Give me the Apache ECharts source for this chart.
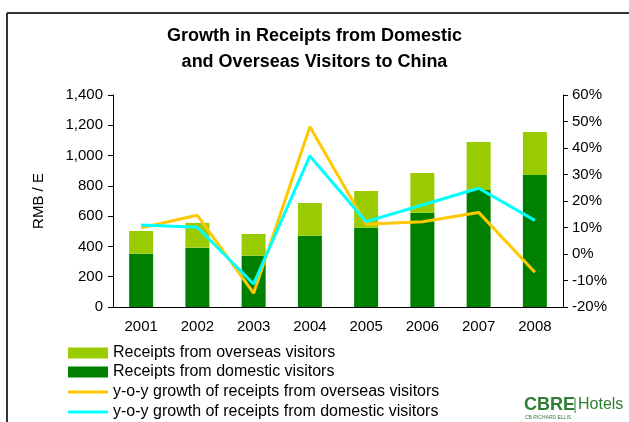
<!DOCTYPE html>
<html>
<head>
<meta charset="utf-8">
<script src="https://cdn.jsdelivr.net/npm/echarts@6/dist/echarts.min.js"></script>
<style>
html,body{margin:0;padding:0;background:#fff;}
#chart{width:629px;height:422px;}
</style>
</head>
<body>
<div id="chart"></div>
<script>
var years = ['2001','2002','2003','2004','2005','2006','2007','2008'];
var domesticReceipts = [352, 392, 339, 471, 524, 623, 773, 872];
var overseasReceipts = [150, 163, 143, 216, 242, 262, 317, 284];
var overseasGrowth = [9.9, 14.6, -14.8, 48.0, 11.2, 12.2, 15.7, -6.9];
var domesticGrowth = [10.9, 10.1, -11.3, 37.0, 12.2, 18.5, 24.8, 12.7];

var FONT = 'Liberation Sans, Arial, sans-serif';
var chart = echarts.init(document.getElementById('chart'));
var tickStyle = {color:'#000', width:1};
var legendText = {fontFamily:FONT, fontSize:16, color:'#000'};
var option = {
  backgroundColor:'#fff',
  animation:false,
  textStyle:{fontFamily:FONT},
  title:{
    text:'Growth in Receipts from Domestic\nand Overseas Visitors to China',
    left:'center', top:18,
    textStyle:{fontFamily:FONT, fontSize:18, fontWeight:'bold', color:'#000', lineHeight:26}
  },
  grid:{left:113, right:66, top:95, bottom:115},
  legend:[{
    orient:'vertical', left:63, top:340, height:60,
    itemWidth:40, itemHeight:11, itemGap:3, padding:5,
    icon:'rect',
    textStyle:legendText,
    data:['Receipts from overseas visitors','Receipts from domestic visitors']
  },{
    orient:'vertical', left:63, top:379, height:60,
    itemWidth:40, itemHeight:3, itemGap:4, padding:5,
    icon:'rect',
    textStyle:legendText,
    data:['y-o-y growth of receipts from overseas visitors','y-o-y growth of receipts from domestic visitors']
  }],
  xAxis:[{
    type:'category', data:years,
    axisLine:{lineStyle:{color:'#000', width:1}},
    axisTick:{length:5, lineStyle:tickStyle},
    axisLabel:{fontFamily:FONT, fontSize:15, color:'#000', margin:12}
  },{
    type:'category', data:years, position:'bottom', offset:0,
    axisLine:{show:false},
    axisTick:{inside:true, length:4, lineStyle:tickStyle},
    axisLabel:{show:false}
  }],
  yAxis:[{
    type:'value', min:0, max:1400, interval:200,
    name:'RMB / E', nameLocation:'middle', nameRotate:90, nameGap:67,
    nameTextStyle:{fontFamily:FONT, fontSize:15, color:'#000'},
    axisLine:{show:true, lineStyle:{color:'#000', width:1}},
    axisTick:{show:true, length:5, lineStyle:tickStyle},
    splitLine:{show:false},
    axisLabel:{fontFamily:FONT, fontSize:15, color:'#000', margin:10,
      formatter:function(v){return v.toLocaleString('en-US');}}
  },{
    type:'value', min:-20, max:60, interval:10, position:'right',
    axisLine:{show:true, lineStyle:{color:'#000', width:1}},
    axisTick:{show:true, length:5, lineStyle:tickStyle},
    splitLine:{show:false},
    axisLabel:{fontFamily:FONT, fontSize:15, color:'#000', margin:9,
      formatter:function(v){return v+'%';}}
  }],
  series:[{
    name:'Receipts from domestic visitors', type:'bar', stack:'r',
    data:domesticReceipts, barWidth:24, itemStyle:{color:'#008000'}
  },{
    name:'Receipts from overseas visitors', type:'bar', stack:'r',
    data:overseasReceipts, barWidth:24, itemStyle:{color:'#99CC00'}
  },{
    name:'y-o-y growth of receipts from overseas visitors', type:'line', yAxisIndex:1,
    data:overseasGrowth, symbol:'none', lineStyle:{color:'#FFC800', width:3}, itemStyle:{color:'#FFC800'}
  },{
    name:'y-o-y growth of receipts from domestic visitors', type:'line', yAxisIndex:1,
    data:domesticGrowth, symbol:'none', lineStyle:{color:'#00FFFF', width:3}, itemStyle:{color:'#00FFFF'}
  }],
  graphic:[
    {type:'line', shape:{x1:7, y1:13, x2:629, y2:13}, style:{stroke:'#333', lineWidth:2}},
    {type:'line', shape:{x1:7, y1:13, x2:7, y2:422}, style:{stroke:'#333', lineWidth:2}},
    {type:'text', left:524, top:396, style:{text:'CBRE', fontFamily:FONT, fontSize:18, fontWeight:'bold', fill:'#2E7D32'}},
    {type:'line', shape:{x1:575, y1:398, x2:575, y2:413}, style:{stroke:'#2E7D32', lineWidth:1}},
    {type:'text', left:578, top:397, style:{text:'Hotels', fontFamily:FONT, fontSize:16, fill:'#2E7D32'}},
    {type:'text', left:525, top:415, style:{text:'CB RICHARD ELLIS', fontFamily:FONT, fontSize:5, fill:'#2E7D32'}}
  ]
};
chart.setOption(option);
</script>
</body>
</html>
